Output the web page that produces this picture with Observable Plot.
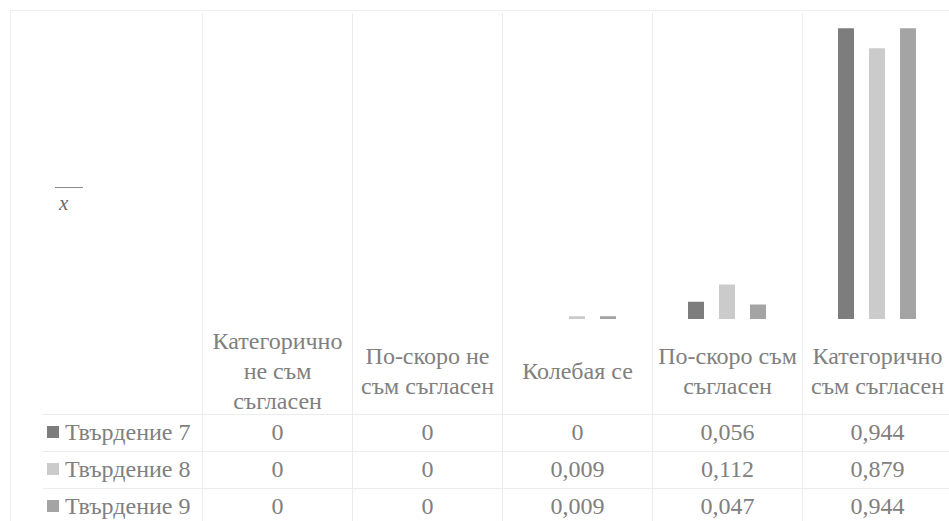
<!DOCTYPE html>
<html>
<head>
<meta charset="utf-8">
<script src="https://cdn.jsdelivr.net/npm/d3@7"></script>
<script src="https://cdn.jsdelivr.net/npm/@observablehq/plot@0.6"></script>
<style>
  html, body { margin: 0; padding: 0; background: #fff; overflow: hidden; }
  #wrap { position: relative; width: 949px; height: 521px; overflow: hidden; font-family: 'Times New Roman', 'Liberation Serif', serif; color: #808080; }
  #wrap svg { position: absolute; left: 0; top: 0; }
  .abs { position: absolute; }
</style>
</head>
<body>
<div id="wrap"></div>
<script>
// ---- data ----
const categories = ["Категорично не съм съгласен", "По-скоро не съм съгласен", "Колебая се", "По-скоро съм съгласен", "Категорично съм съгласен"];
const categoryLabels = ["Категорично\nне съм\nсъгласен", "По-скоро не\nсъм съгласен", "Колебая се", "По-скоро съм\nсъгласен", "Категорично\nсъм съгласен"];
const seriesNames = ["Твърдение 7", "Твърдение 8", "Твърдение 9"];
const t7 = [0, 0, 0, 0.056, 0.944];
const t8 = [0, 0, 0.009, 0.112, 0.879];
const t9 = [0, 0, 0.009, 0.047, 0.944];
const seriesColors = ["#7d7d7d", "#cbcbcb", "#a4a4a4"];

const seriesValues = [t7, t8, t9];
const data = [];
seriesNames.forEach((s, si) => categories.forEach((c, ci) => data.push({category: c, series: s, value: seriesValues[si][ci]})));
const fmt = v => String(v).replace(".", ",");
const labelRows = categories.map((c, i) => ({category: c, label: categoryLabels[i]}));

const FONT = "'Times New Roman', 'Liberation Serif', serif";
const rowDy = [113, 150, 187];

const chart = Plot.plot({
  width: 949,
  height: 521,
  marginLeft: 202,
  marginRight: -3,
  marginTop: 11,
  marginBottom: 202,
  style: {fontFamily: FONT, fontSize: "24px", color: "#808080", background: "transparent"},
  fx: {domain: categories, padding: 0, axis: null},
  x: {domain: seriesNames, paddingInner: 0.49, paddingOuter: 1.13, axis: null},
  y: {domain: [0, 1], axis: null},
  color: {domain: seriesNames, range: seriesColors},
  marks: [
    Plot.frame({anchor: "left", stroke: "#ececec", strokeWidth: 1, insetTop: 2, insetBottom: -202}),
    Plot.barY(data, {fx: "category", x: "series", y: "value", fill: "series"}),
    Plot.text(labelRows, {fx: "category", text: "label", frameAnchor: "bottom", dy: 50, lineAnchor: "middle", lineHeight: 1.25, fill: "#808080", fontFamily: FONT, fontSize: 24}),
    ...seriesNames.map((s, si) =>
      Plot.text(data.filter(d => d.series === s), {fx: "category", text: d => fmt(d.value), frameAnchor: "bottom", dy: rowDy[si], lineAnchor: "middle", fill: "#808080", fontFamily: FONT, fontSize: 24})
    )
  ]
});

const wrap = document.getElementById("wrap");

// outer border
const border = document.createElement("div");
border.className = "abs";
Object.assign(border.style, {left: "10px", top: "10px", width: "960px", height: "530px", border: "1px solid #eeeeee"});
wrap.appendChild(border);

// table horizontal lines
[414, 451, 488].forEach(y => {
  const l = document.createElement("div");
  l.className = "abs";
  Object.assign(l.style, {left: "43px", top: y + "px", width: "906px", height: "0", borderTop: "1px solid #ececec"});
  wrap.appendChild(l);
});

wrap.appendChild(chart);

// legend keys column
const rowY = [432, 469, 506];
seriesNames.forEach((s, i) => {
  const sq = document.createElement("div");
  sq.className = "abs";
  Object.assign(sq.style, {left: "47px", top: (rowY[i] - 6) + "px", width: "12px", height: "12px", background: seriesColors[i]});
  wrap.appendChild(sq);
  const t = document.createElement("div");
  t.className = "abs";
  t.textContent = s;
  t.style.fontFamily = FONT;
  Object.assign(t.style, {left: "65px", top: (rowY[i] - 15) + "px", fontSize: "24px", lineHeight: "30px", whiteSpace: "nowrap"});
  wrap.appendChild(t);
});

// x-bar label
const xbar = document.createElement("div");
xbar.className = "abs";
Object.assign(xbar.style, {left: "55px", top: "187px", width: "28px", height: "0", borderTop: "1px solid #8a8a8a"});
wrap.appendChild(xbar);
const xl = document.createElement("div");
xl.className = "abs";
xl.textContent = "x";
xl.style.fontFamily = FONT;
Object.assign(xl.style, {left: "59px", top: "192px", fontSize: "21px", lineHeight: "22px", fontStyle: "italic", color: "#6a6a6a"});
wrap.appendChild(xl);
</script>
</body>
</html>
